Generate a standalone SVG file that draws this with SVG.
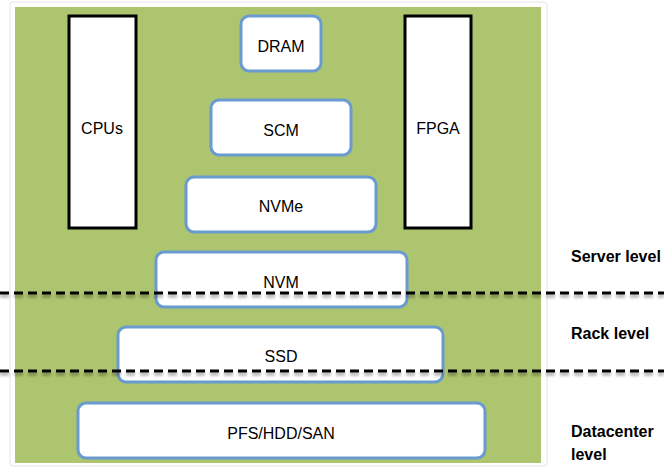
<svg xmlns="http://www.w3.org/2000/svg" width="664" height="468" viewBox="0 0 664 468">
<defs>
<filter id="sh" x="-5%" y="-50%" width="110%" height="300%">
<feGaussianBlur in="SourceAlpha" stdDeviation="1.5"/>
<feOffset dy="3" result="b"/>
<feComponentTransfer><feFuncA type="linear" slope="0.35"/></feComponentTransfer>
<feMerge><feMergeNode/><feMergeNode in="SourceGraphic"/></feMerge>
</filter>
</defs>
<style>
.chip{fill:#ffffff;stroke:#000000;stroke-width:3}
.mem{fill:#ffffff;stroke:#6a9bd0;stroke-width:3}
.t{font-family:"Liberation Sans",Arial,sans-serif;font-size:16px;fill:#000;text-anchor:middle;dominant-baseline:central}
.lv{font-family:"Liberation Sans",Arial,sans-serif;font-size:16px;font-weight:bold;fill:#000}
.dash{stroke:#000;stroke-width:3;stroke-dasharray:9 5;fill:none}
</style>
<rect x="0" y="0" width="664" height="468" fill="#ffffff"/>
<rect x="10" y="2" width="537" height="464" fill="#ffffff" stroke="#e4e4e4" stroke-width="1" rx="3"/>
<rect id="bg" x="15" y="7" width="526" height="456" fill="#adc56e"/>
<g id="cpus"><rect class="chip" x="69" y="16" width="67" height="212"/><text class="t" x="102" y="128">CPUs</text></g>
<g id="fpga"><rect class="chip" x="405" y="16" width="66" height="212"/><text class="t" x="438" y="128">FPGA</text></g>
<g id="dram"><rect class="mem" x="241" y="16" width="80" height="55" rx="8"/><text class="t" x="281" y="46">DRAM</text></g>
<g id="scm"><rect class="mem" x="211" y="100" width="140" height="55" rx="8"/><text class="t" x="281" y="130">SCM</text></g>
<g id="nvme"><rect class="mem" x="186" y="177" width="190" height="55" rx="8"/><text class="t" x="281" y="206">NVMe</text></g>
<g id="nvm"><rect class="mem" x="156" y="252" width="251" height="55" rx="8"/><text class="t" x="281" y="282">NVM</text></g>
<g id="ssd"><rect class="mem" x="118" y="327" width="325" height="55" rx="8"/><text class="t" x="281" y="356">SSD</text></g>
<g id="pfs"><rect class="mem" x="78" y="403" width="407" height="55" rx="8"/><text class="t" x="281" y="433">PFS/HDD/SAN</text></g>
<g id="connectors" filter="url(#sh)">
<line class="dash" x1="0" y1="293" x2="664" y2="293"/>
<line class="dash" x1="0" y1="371" x2="664" y2="371"/>
</g>
<g id="labels">
<text class="lv" x="571" y="262">Server level</text>
<text class="lv" x="571" y="339">Rack level</text>
<text class="lv" x="571" y="437">Datacenter</text>
<text class="lv" x="571" y="460">level</text>
</g>
</svg>
